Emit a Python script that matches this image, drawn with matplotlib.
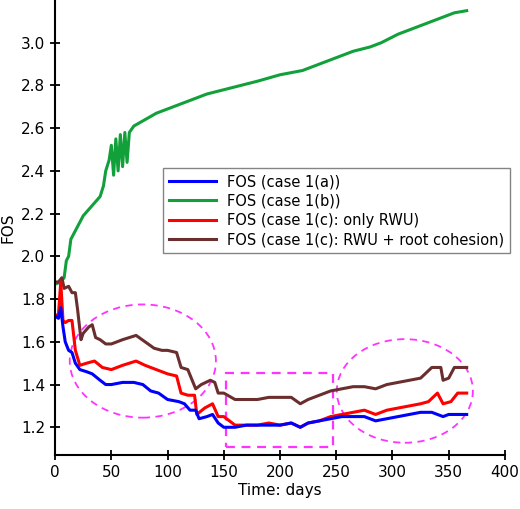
import numpy as np
import matplotlib
matplotlib.use('Agg')
import matplotlib.pyplot as plt
import matplotlib.patches as mpatches

# ---- data ----
days_a = [0, 3, 5, 7, 9, 12, 15, 18, 22, 28, 33, 40, 45, 50, 60, 70, 78, 85, 92, 100, 110, 115, 120, 125,
          128, 135, 140, 145, 150, 160, 170, 180, 190, 200, 210, 218, 225, 235, 245, 255, 265, 275, 285,
          295, 305, 315, 325, 335, 345, 350, 360, 366]
fos_a = [1.72, 1.71, 1.76, 1.67, 1.60, 1.56, 1.55, 1.50, 1.47, 1.46, 1.45, 1.42, 1.40, 1.40, 1.41, 1.41,
         1.40, 1.37, 1.36, 1.33, 1.32, 1.31, 1.28, 1.28, 1.24, 1.25, 1.26, 1.22, 1.20, 1.20, 1.21, 1.21,
         1.21, 1.21, 1.22, 1.20, 1.22, 1.23, 1.24, 1.25, 1.25, 1.25, 1.23, 1.24, 1.25, 1.26, 1.27, 1.27,
         1.25, 1.26, 1.26, 1.26]

days_b = [0, 5, 8, 10, 12, 14, 18, 25, 30, 35, 40, 43, 45, 48, 50, 52, 54, 56, 58, 60, 62, 64, 66, 70,
          80, 90, 100, 110, 120, 135, 150, 165, 180, 200, 220, 235, 250, 265, 280, 290, 305, 315, 330,
          340, 355, 366]
fos_b = [1.87, 1.88, 1.90, 1.98, 2.00, 2.08, 2.12, 2.19, 2.22, 2.25, 2.28, 2.33, 2.40, 2.45, 2.52, 2.38,
         2.55, 2.40, 2.57, 2.42, 2.58, 2.44, 2.58, 2.61, 2.64, 2.67, 2.69, 2.71, 2.73, 2.76, 2.78, 2.80,
         2.82, 2.85, 2.87, 2.90, 2.93, 2.96, 2.98, 3.00, 3.04, 3.06, 3.09, 3.11, 3.14, 3.15]

days_c = [0, 3, 5, 7, 9, 12, 15, 18, 22, 28, 35, 42, 50, 60, 72, 80, 90, 100, 108, 112, 118, 124, 126,
          133, 140, 145, 150, 160, 170, 180, 190, 200, 210, 218, 225, 235, 245, 255, 265, 275, 285, 295,
          305, 315, 325, 332, 340, 345, 352, 358, 366]
fos_c = [1.72, 1.73, 1.88, 1.70, 1.69, 1.70, 1.70, 1.56, 1.49, 1.50, 1.51, 1.48, 1.47, 1.49, 1.51, 1.49,
         1.47, 1.45, 1.44, 1.36, 1.35, 1.35, 1.26, 1.29, 1.31, 1.25, 1.25, 1.21, 1.21, 1.21, 1.22, 1.21,
         1.22, 1.20, 1.22, 1.23, 1.25, 1.26, 1.27, 1.28, 1.26, 1.28, 1.29, 1.30, 1.31, 1.32, 1.36, 1.31,
         1.32, 1.36, 1.36]

days_d = [0, 3, 6, 8, 12, 15, 18, 20, 23, 25, 30, 33, 36, 40, 45, 50, 60, 72, 80, 88, 95, 100, 108, 112,
          118, 125, 130, 138, 142, 145, 150, 160, 170, 180, 190, 200, 210, 218, 225, 235, 245, 255, 265,
          275, 285, 295, 305, 315, 325, 335, 343, 345, 350, 355, 366]
fos_d = [1.88, 1.88, 1.90, 1.85, 1.86, 1.83, 1.83, 1.75, 1.61, 1.64, 1.67, 1.68, 1.62, 1.61, 1.59, 1.59,
         1.61, 1.63, 1.60, 1.57, 1.56, 1.56, 1.55, 1.48, 1.47, 1.38, 1.40, 1.42, 1.41, 1.36, 1.36, 1.33,
         1.33, 1.33, 1.34, 1.34, 1.34, 1.31, 1.33, 1.35, 1.37, 1.38, 1.39, 1.39, 1.38, 1.40, 1.41, 1.42,
         1.43, 1.48, 1.48, 1.42, 1.43, 1.48, 1.48]

labels = ['FOS (case 1(a))', 'FOS (case 1(b))', 'FOS (case 1(c): only RWU)',
          'FOS (case 1(c): RWU + root cohesion)']
colors = ['#0000ff', '#12a03a', '#ff0000', '#6b2e2e']

fig = plt.figure(figsize=(5.2, 5.09), dpi=100)
ax = fig.add_axes([0.106, 0.106, 0.865, 0.894])

series = [(days_a, fos_a), (days_b, fos_b), (days_c, fos_c), (days_d, fos_d)]
order = [1, 3, 2, 0]
for i in order:
    d, f = series[i]
    ax.plot(d, f, color=colors[i], lw=2.2, label=labels[i])

# highlight regions
mag = '#ff33ff'
ax.add_patch(mpatches.Ellipse((78, 1.51), 130, 0.53, fill=False, ec=mag, ls=(0, (4, 3)), lw=1.3))
ax.add_patch(mpatches.Ellipse((311, 1.37), 121, 0.485, fill=False, ec=mag, ls=(0, (4, 3)), lw=1.3))
ax.add_patch(mpatches.Rectangle((152, 1.11), 95, 0.345, fill=False, ec=mag, ls=(0, (4, 3)), lw=1.6))

ax.set_xlim(0, 400)
ax.set_ylim(1.07, 3.2)
ax.set_xticks(range(0, 401, 50))
ax.set_yticks([1.2, 1.4, 1.6, 1.8, 2.0, 2.2, 2.4, 2.6, 2.8, 3.0])
ax.set_yticklabels([f'{v:.1f}' for v in ax.get_yticks()])
ax.spines['top'].set_visible(False)
ax.spines['right'].set_visible(False)
ax.spines['left'].set_linewidth(1.5)
ax.spines['bottom'].set_linewidth(1.5)
ax.tick_params(labelsize=11, width=1.3, direction='inout', length=7)
ax.set_xlabel('Time: days', fontsize=11, labelpad=2)
ax.set_ylabel('FOS', fontsize=11)

handles, labs = ax.get_legend_handles_labels()
hmap = dict(zip(labs, handles))
leg = ax.legend([hmap[l] for l in labels], labels, loc='upper left', bbox_to_anchor=(0.24, 0.63),
                fontsize=10.5, frameon=True, fancybox=False, edgecolor='#666666',
                handlelength=3.2, borderaxespad=0, labelspacing=0.3)
leg.get_frame().set_linewidth(1.0)

fig.savefig('out.png', dpi=100)
